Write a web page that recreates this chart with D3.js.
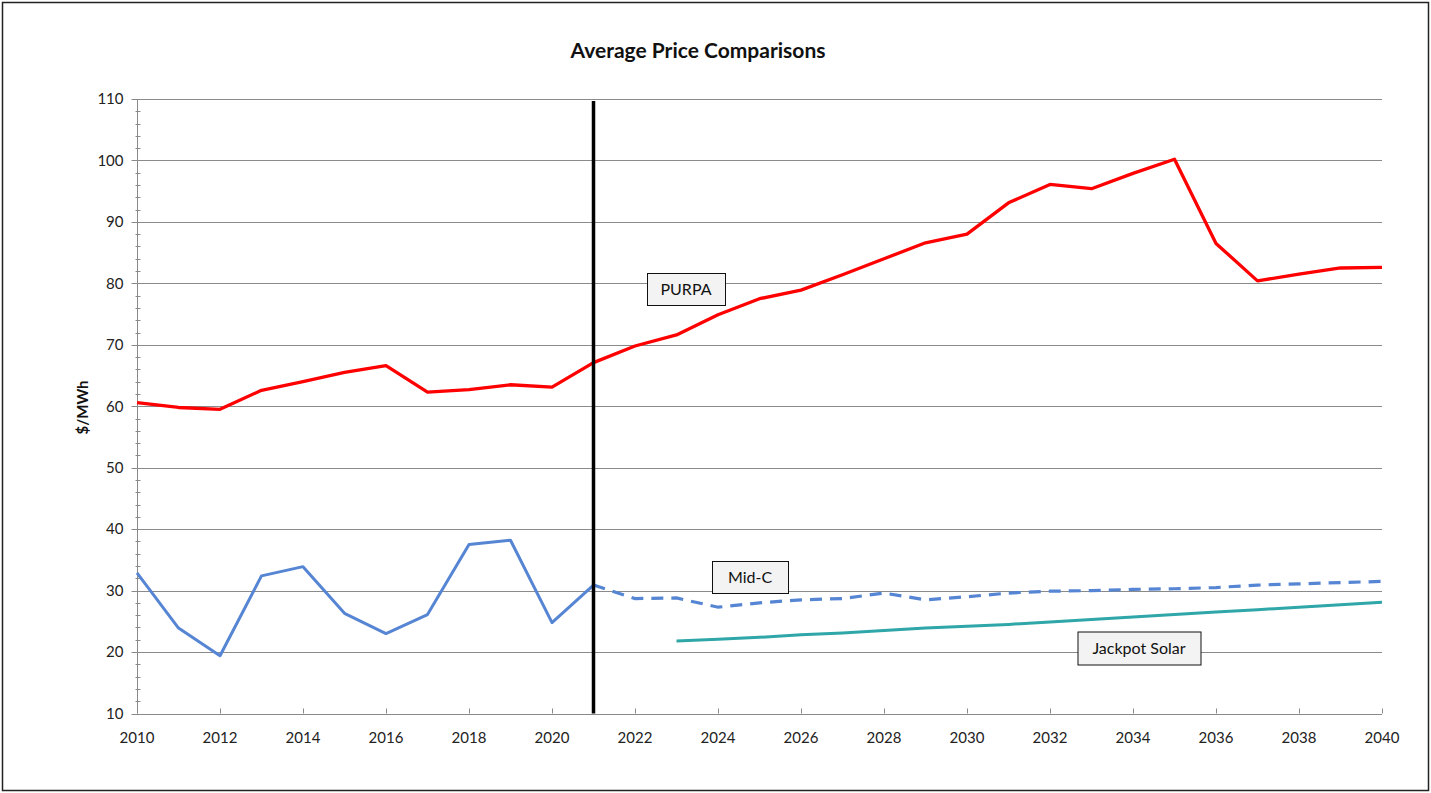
<!DOCTYPE html>
<html>
<head>
<meta charset="utf-8">
<script src="https://cdn.jsdelivr.net/npm/d3@7"></script>
<style>
  html, body { margin: 0; padding: 0; background: #fff; }
  svg { display: block; font-family: Lato, "Open Sans", sans-serif; }
  .grid line { stroke: #8a8a8a; stroke-width: 1; }
  .tick-label { font-size: 15px; fill: #222; }
  .note rect { fill: #f3f3f3; stroke: #111; stroke-width: 1; }
  .note text { font-size: 16px; fill: #111; }
</style>
</head>
<body>
<div id="chart"></div>
<script>
// Years on the x axis
const years = d3.range(2010, 2041);
const xTicks = d3.range(2010, 2041, 2);
const yTicks = d3.range(10, 111, 10);

// PURPA ($/MWh), 2010-2040
const purpa = [60.6, 59.8, 59.5, 62.6, 64.0, 65.5, 66.6, 62.3, 62.7, 63.5, 63.1,
  67.1, 69.8, 71.6, 74.9, 77.5, 78.9, 81.4, 84.0, 86.6, 88.0,
  93.1, 96.1, 95.4, 97.9, 100.2, 86.5, 80.4, 81.5, 82.5, 82.6];

// Mid-C actuals 2010-2021 and forecast 2021-2040
const midcActualYears = d3.range(2010, 2022);
const midcActual = [32.9, 23.9, 19.4, 32.4, 33.9, 26.3, 23.0, 26.1, 37.5, 38.2, 24.8, 30.9];
const midcForecastYears = d3.range(2021, 2041);
const midcForecast = [30.9, 28.7, 28.8, 27.3, 28.0, 28.5, 28.7, 29.6, 28.5, 29.0,
  29.6, 29.9, 30.0, 30.2, 30.3, 30.5, 30.9, 31.1, 31.3, 31.5];

// Jackpot Solar, 2023-2040
const jackpotYears = d3.range(2023, 2041);
const jackpot = [21.8, 22.1, 22.4, 22.8, 23.1, 23.5, 23.9, 24.2, 24.5,
  24.9, 25.3, 25.7, 26.1, 26.5, 26.9, 27.3, 27.7, 28.1];

const dividerYear = 2021;

// text boxes placed in data units
const notes = [
  { text: 'PURPA', year: 2023.24, value: 79.1, w: 78, h: 32 },
  { text: 'Mid-C', year: 2024.76, value: 32.15, w: 76, h: 32 },
  { text: 'Jackpot Solar', year: 2034.14, value: 20.7, w: 123, h: 33 },
];

const width = 1431, height = 793;
const margin = { top: 99, right: 49, bottom: 79, left: 137 };

const svg = d3.select('#chart').append('svg')
  .attr('width', width)
  .attr('height', height);

// outer frame
svg.append('rect')
  .attr('x', 2.5).attr('y', 2.5)
  .attr('width', 1426).attr('height', 788)
  .attr('fill', '#fff')
  .attr('stroke', '#222')
  .attr('stroke-width', 1.5);

const x = d3.scaleLinear()
  .domain([2010, 2040])
  .range([margin.left, width - margin.right]);

const y = d3.scaleLinear()
  .domain([10, 110])
  .range([height - margin.bottom - 0.5, margin.top]);

svg.append('text')
  .attr('x', 698).attr('y', 58)
  .attr('text-anchor', 'middle')
  .style('font-size', '21px')
  .style('font-weight', 'bold')
  .attr('fill', '#111')
  .text('Average Price Comparisons');

// horizontal gridlines
svg.append('g').attr('class', 'grid')
  .selectAll('line')
  .data(yTicks)
  .join('line')
  .attr('x1', x(2010)).attr('x2', x(2040))
  .attr('y1', d => Math.round(y(d)) + 0.5)
  .attr('y2', d => Math.round(y(d)) + 0.5);

// y axis with minor ticks every 2
const yAxis = svg.append('g')
  .attr('transform', `translate(${x(2010) + 0.5},0)`);
yAxis.append('line')
  .attr('y1', y(10)).attr('y2', y(110))
  .attr('stroke', '#8a8a8a');
yAxis.selectAll('.minor')
  .data(d3.range(10, 111, 2).filter(d => d % 10 !== 0))
  .join('line')
  .attr('x1', -2).attr('x2', 3)
  .attr('y1', d => Math.round(y(d)) + 0.5)
  .attr('y2', d => Math.round(y(d)) + 0.5)
  .attr('stroke', '#8a8a8a');
yAxis.selectAll('.major')
  .data(yTicks)
  .join('line')
  .attr('x1', -6).attr('x2', 0)
  .attr('y1', d => Math.round(y(d)) + 0.5)
  .attr('y2', d => Math.round(y(d)) + 0.5)
  .attr('stroke', '#8a8a8a');
yAxis.selectAll('text')
  .data(yTicks)
  .join('text')
  .attr('class', 'tick-label')
  .attr('x', -14)
  .attr('y', d => y(d))
  .attr('dy', '0.35em')
  .attr('text-anchor', 'end')
  .text(d => d);

// x axis, ticks pointing up into the plot
const xAxis = svg.append('g');
xAxis.append('line')
  .attr('x1', x(2010)).attr('x2', x(2040))
  .attr('y1', Math.round(y(10)) + 0.5).attr('y2', Math.round(y(10)) + 0.5)
  .attr('stroke', '#8a8a8a');
xAxis.selectAll('.xt')
  .data(xTicks)
  .join('line')
  .attr('x1', d => Math.round(x(d)) + 0.5)
  .attr('x2', d => Math.round(x(d)) + 0.5)
  .attr('y1', y(10) - 5).attr('y2', y(10))
  .attr('stroke', '#8a8a8a');
xAxis.selectAll('text')
  .data(xTicks)
  .join('text')
  .attr('class', 'tick-label')
  .attr('x', d => x(d))
  .attr('y', 743)
  .attr('text-anchor', 'middle')
  .text(d => d);

svg.append('text')
  .attr('transform', `translate(88,${y(59.8)}) rotate(-90)`)
  .attr('text-anchor', 'middle')
  .style('font-size', '15px')
  .style('font-weight', 'bold')
  .attr('fill', '#111')
  .text('$/MWh');

const line = d3.line()
  .x(d => x(d[0]))
  .y(d => y(d[1]));

// Jackpot Solar
svg.append('path')
  .datum(d3.zip(jackpotYears, jackpot))
  .attr('fill', 'none')
  .attr('stroke', '#2fa6a8')
  .attr('stroke-width', 3)
  .attr('d', line);

// Mid-C forecast (dashed)
svg.append('path')
  .datum(d3.zip(midcForecastYears, midcForecast))
  .attr('fill', 'none')
  .attr('stroke', '#5585d3')
  .attr('stroke-width', 3.2)
  .attr('stroke-dasharray', '12,8')
  .attr('d', line);

// Mid-C actuals
svg.append('path')
  .datum(d3.zip(midcActualYears, midcActual))
  .attr('fill', 'none')
  .attr('stroke', '#5585d3')
  .attr('stroke-width', 3)
  .attr('stroke-linejoin', 'round')
  .attr('d', line);

// PURPA
svg.append('path')
  .datum(d3.zip(years, purpa))
  .attr('fill', 'none')
  .attr('stroke', '#ff0000')
  .attr('stroke-width', 3.3)
  .attr('stroke-linejoin', 'round')
  .attr('d', line);

// divider between history and forecast
svg.append('line')
  .attr('x1', x(dividerYear)).attr('x2', x(dividerYear))
  .attr('y1', 101).attr('y2', y(10))
  .attr('stroke', '#000')
  .attr('stroke-width', 3.5);

const note = svg.append('g')
  .selectAll('g')
  .data(notes)
  .join('g')
  .attr('class', 'note')
  .attr('transform', d => `translate(${Math.round(x(d.year))},${Math.round(y(d.value))})`);
note.append('rect')
  .attr('x', d => -d.w / 2 + 0.5)
  .attr('y', d => -d.h / 2 + 0.5)
  .attr('width', d => d.w)
  .attr('height', d => d.h);
note.append('text')
  .attr('text-anchor', 'middle')
  .attr('dy', '0.35em')
  .text(d => d.text);
</script>
</body>
</html>
